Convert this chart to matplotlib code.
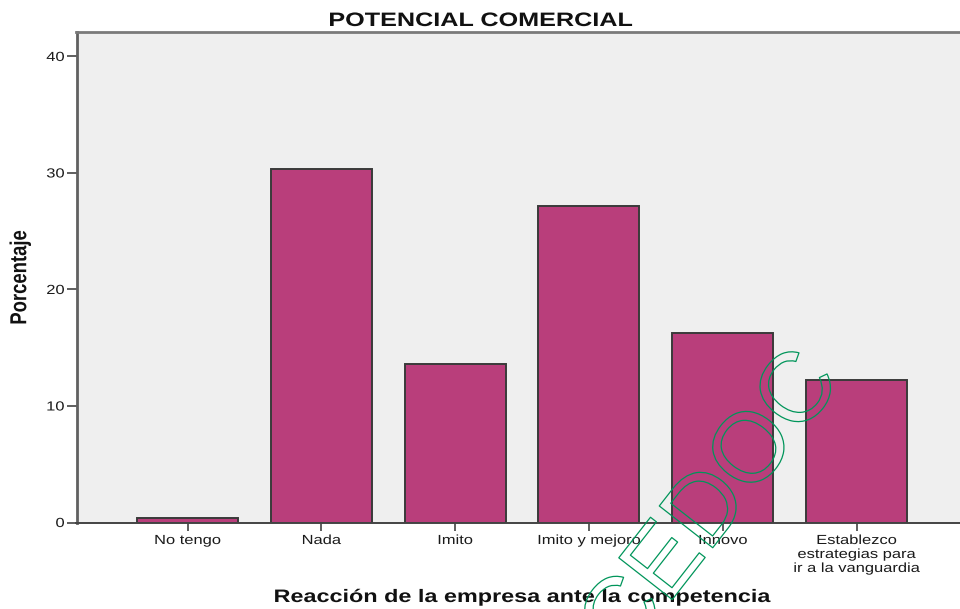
import matplotlib
matplotlib.use("Agg")
import matplotlib.pyplot as plt
from matplotlib import patheffects
from matplotlib.patheffects import AbstractPathEffect
from matplotlib.transforms import Affine2D

# Survey results: company reaction to competitors (percent of respondents)
categories = ["No tengo", "Nada", "Imito", "Imito y mejoro", "Innovo",
              "Establezco\nestrategias para\nir a la vanguardia"]
percentages = [0.4, 30.3, 13.6, 27.2, 16.3, 12.2]
y_ticks = [0, 10, 20, 30, 40]
y_tick_labels = ["0", "10", "20", "30", "40"]

title = "POTENCIAL COMERCIAL"
x_title = "Reacción de la empresa ante la competencia"
y_title = "Porcentaje"
watermark = "CEDOC"

BAR_COLOR = "#B93E7B"
PANEL_COLOR = "#EFEFEF"
FONT = "Liberation Sans"


class Widen(AbstractPathEffect):
    """Draw glyphs wider (sx) or taller (sy) in the text's own frame."""

    def __init__(self, sx=1.0, sy=1.0, anchor="center"):
        super().__init__()
        self.sx, self.sy, self.anchor = sx, sy, anchor

    def draw_path(self, renderer, gc, tpath, affine, rgbFace=None):
        v = tpath.vertices
        if len(v):
            x0, x1 = v[:, 0].min(), v[:, 0].max()
            cy = (v[:, 1].min() + v[:, 1].max()) / 2
        else:
            x0 = x1 = cy = 0.0
        cx = {"left": x0, "right": x1}.get(self.anchor, (x0 + x1) / 2)
        pre = Affine2D().translate(-cx, -cy).scale(self.sx, self.sy).translate(cx, cy)
        renderer.draw_path(gc, tpath, pre + affine, rgbFace)


W, H = 960, 609
fig = plt.figure(figsize=(W / 100, H / 100), dpi=100)
fig.patch.set_facecolor("white")

ax = fig.add_axes([76.5 / W, (H - 522.5) / H, 1 - 76.5 / W, (522.5 - 32) / H])
ax.set_facecolor(PANEL_COLOR)

x = list(range(len(categories)))
ax.bar(x, percentages, width=0.755, color=BAR_COLOR,
       edgecolor="#3a3a3a", linewidth=1.4, zorder=2)

ax.set_xlim(-0.8296, 5.7735)
ax.set_ylim(0, 42.1)

ax.set_yticks(y_ticks, y_tick_labels)
ax.set_xticks(x, categories)

ax.tick_params(axis="y", length=7.2, width=1.1, color="#333333", pad=1.4,
               labelsize=9.5, labelcolor="#1a1a1a")
ax.tick_params(axis="x", length=5.8, width=1.1, color="#333333", pad=3.2,
               labelsize=9.5, labelcolor="#1a1a1a")

for lbl in ax.get_yticklabels():
    lbl.set_fontfamily(FONT)
    lbl.set_path_effects([Widen(sx=1.25, anchor="right")])
for lbl in ax.get_xticklabels():
    lbl.set_fontfamily(FONT)
    lbl.set_linespacing(1.22)
    lbl.set_path_effects([Widen(sx=1.25, anchor="center")])

ax.spines["right"].set_visible(False)
ax.spines["left"].set_color("#606060")
ax.spines["left"].set_linewidth(2.0)
ax.spines["top"].set_color("#7a7a7a")
ax.spines["top"].set_linewidth(2.0)
ax.spines["bottom"].set_color("#444444")
ax.spines["bottom"].set_linewidth(1.4)

fig.text(480.5 / W, (H - 26) / H, title, ha="center", va="baseline",
         fontsize=14, fontweight="bold", family=FONT, color="#111111",
         path_effects=[Widen(sx=1.295)])

fig.text(521.5 / W, 7 / H, x_title, ha="center", va="baseline",
         fontsize=13, fontweight="bold", family=FONT, color="#111111",
         path_effects=[Widen(sx=1.296)])

fig.text(20.5 / W, 1 - 277.5 / H, y_title, ha="center", va="center",
         rotation=90, fontsize=13.3, fontweight="bold", family=FONT,
         color="#111111", path_effects=[Widen(sy=1.25)])

# Outlined diagonal watermark over the plot
fig.text(713 / W, 1 - 506 / H, watermark, ha="center", va="center",
         rotation=52, rotation_mode="anchor", fontsize=71, family=FONT,
         color="none", zorder=10,
         path_effects=[patheffects.Stroke(linewidth=0.9, foreground="#00955A")])

fig.savefig("out.png", dpi=100, facecolor="white")
